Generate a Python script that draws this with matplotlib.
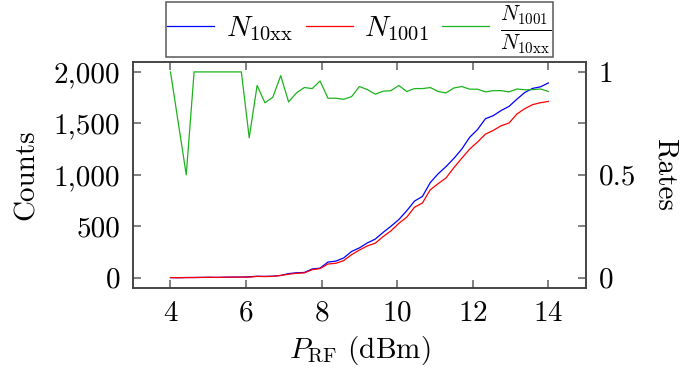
import numpy as np
import matplotlib
matplotlib.use("Agg")
import matplotlib.pyplot as plt
from matplotlib.ticker import FuncFormatter

plt.rcParams['font.family'] = 'serif'
plt.rcParams['font.serif'] = ['cmr10']
plt.rcParams['mathtext.fontset'] = 'cm'
plt.rcParams['axes.formatter.use_mathtext'] = True

# P_RF (dBm), 49 steps from 4 to 14
p_rf = [4.0, 4.208, 4.417, 4.625, 4.833, 5.042, 5.25, 5.458, 5.667, 5.875,
        6.083, 6.292, 6.5, 6.708, 6.917, 7.125, 7.333, 7.542, 7.75, 7.958,
        8.167, 8.375, 8.583, 8.792, 9.0, 9.208, 9.417, 9.625, 9.833, 10.042,
        10.25, 10.458, 10.667, 10.875, 11.083, 11.292, 11.5, 11.708, 11.917, 12.125,
        12.333, 12.542, 12.75, 12.958, 13.167, 13.375, 13.583, 13.792, 14.0]

n_10xx = [1, 0, 2, 2, 3, 4, 3, 5, 6, 6,
          9, 14, 13, 15, 22, 40, 48, 51, 85, 93,
          152, 161, 192, 255, 290, 338, 375, 440, 500, 565,
          650, 745, 790, 925, 1010, 1080, 1160, 1250, 1365, 1440,
          1545, 1575, 1625, 1665, 1735, 1800, 1840, 1855, 1893]

n_1001 = [1, 0, 1, 2, 3, 4, 3, 5, 6, 6,
          6, 13, 11, 13, 22, 34, 43, 47, 78, 89,
          133, 140, 166, 224, 269, 309, 335, 399, 455, 528,
          588, 685, 726, 855, 914, 970, 1070, 1161, 1250, 1319,
          1395, 1432, 1477, 1503, 1591, 1643, 1682, 1701, 1713]

rates = [1.0, np.nan, 0.5, 1.0, 1.0, 1.0, 1.0, 1.0, 1.0, 1.0,
         0.68, 0.934, 0.85, 0.877, 0.982, 0.854, 0.898, 0.924, 0.919, 0.956,
         0.872, 0.872, 0.867, 0.880, 0.929, 0.914, 0.892, 0.906, 0.909, 0.934,
         0.905, 0.919, 0.919, 0.924, 0.905, 0.898, 0.922, 0.929, 0.916, 0.916,
         0.903, 0.909, 0.909, 0.903, 0.917, 0.913, 0.914, 0.917, 0.905]

x = np.array(p_rf)
r = np.array(rates)
ok = np.isfinite(r)

fig = plt.figure(figsize=(6.84, 3.69), dpi=100)
ax = fig.add_axes([0.194, 0.2195, 0.663, 0.6135])
ax2 = ax.twinx()

l1, = ax.plot(x, n_10xx, color='blue', lw=0.9)
l2, = ax.plot(x, n_1001, color='red', lw=0.9)
l3, = ax2.plot(x[ok], r[ok], color='#1db31d', lw=0.9)

ax.set_xlim(3, 15)
ax.set_ylim(-100, 2100)
ax2.set_ylim(-0.05, 1.05)
ax.set_xticks([4, 6, 8, 10, 12, 14])
ax.set_yticks([0, 500, 1000, 1500, 2000])
ax2.set_yticks([0, 0.5, 1])
ax.yaxis.set_major_formatter(FuncFormatter(lambda v, p: f'{v:,.0f}'))
ax2.yaxis.set_major_formatter(FuncFormatter(lambda v, p: f'{v:g}'))

fs = 21
tick_kw = dict(direction='in', length=6, width=1.4, color='#808080',
               labelcolor='black', labelsize=fs, pad=9)
ax.tick_params(axis='x', top=True, **tick_kw)
ax.tick_params(axis='y', right=True, **tick_kw)
ax2.tick_params(axis='y', **tick_kw)
for a in (ax, ax2):
    for s in a.spines.values():
        s.set_color('#404040')
        s.set_linewidth(1.1)

ax.set_xlabel(r'$P_{\mathrm{RF}}$ (dBm)', fontsize=fs, labelpad=5)
ax.set_ylabel('Counts', fontsize=fs, labelpad=10)
ax2.set_ylabel('Rates', fontsize=fs, rotation=-90, labelpad=30)

leg = ax.legend([l1, l2, l3],
                [r'$N_{10\mathrm{xx}}$', r'$N_{1001}$',
                 r'$\frac{N_{1001}}{N_{10\mathrm{xx}}}$'],
                loc='lower center', bbox_to_anchor=(0.5, 1.022), ncol=3,
                fontsize=fs, frameon=True, fancybox=False,
                handlelength=1.6, handletextpad=0.4, columnspacing=0.45,
                borderpad=0.05, borderaxespad=0)
leg.get_texts()[2].set_fontsize(22)
leg.get_frame().set_edgecolor('#303030')
leg.get_frame().set_linewidth(1.1)
leg.set_zorder(10)

fig.savefig('out.png', dpi=100)
